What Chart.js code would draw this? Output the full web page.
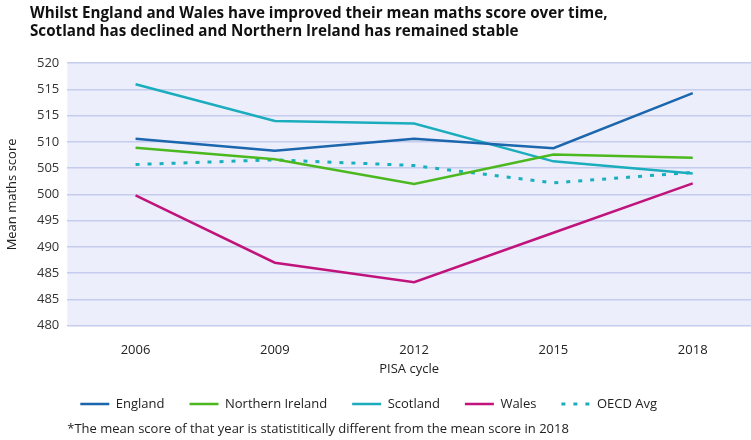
<!DOCTYPE html>
<html><head><meta charset="utf-8">
<script src="https://cdn.jsdelivr.net/npm/chart.js@4"></script>
<style>html,body{margin:0;padding:0;background:#fff}#wrap{width:751px;height:440px;position:relative}</style>
</head><body><div id="wrap"><canvas id="c"></canvas></div>
<script>
const years = [2006, 2009, 2012, 2015, 2018];
const england = [495.6, 493.3, 495.6, 493.8, 504.3];
const northernIreland = [493.9, 491.7, 487.0, 492.6, 492.0];
const scotland = [506.0, 499.0, 498.5, 491.3, 489.0];
const wales = [484.8, 472.0, 468.3, 477.7, 487.1];
const oecdAvg = [490.7, 491.6, 490.5, 487.2, 489.2];
const seriesNames = ['England', 'Northern Ireland', 'Scotland', 'Wales', 'OECD Avg'];
const yTickLabels = ['480','485','485','490','495','500','505','510','515','515','520'];
const titleLines = ['Whilst England and Wales have improved their mean maths score over time,',
                    'Scotland has declined and Northern Ireland has remained stable'];
const yTitle = 'Mean maths score';
const xTitle = 'PISA cycle';
const footnote = '*The mean score of that year is statistitically different from the mean score in 2018';

const FONT = 'Open Sans';
const pts = arr => arr.map((v, i) => ({x: years[i], y: v}));

const plotBg = {
  id: 'plotBg',
  beforeDraw(chart) {
    const {ctx, chartArea: a} = chart;
    ctx.save();
    ctx.fillStyle = '#eceffb';
    ctx.fillRect(a.left, a.top, a.right - a.left, a.bottom - a.top);
    ctx.restore();
  }
};
const legendShift = {
  id: 'legendShift',
  afterLayout(chart) {
    const l = chart.legend;
    if (l) { l.left -= 12; l.right -= 12; }
  }
};

const mk = (label, data, color, extra) => Object.assign({
  label, data: pts(data), borderColor: color, backgroundColor: color,
  borderWidth: 2.5, pointRadius: 0, tension: 0, fill: false
}, extra || {});

new Chart(document.getElementById('c'), {
  type: 'line',
  data: {
    datasets: [
      mk(seriesNames[0], england, '#1b66ad'),
      mk(seriesNames[1], northernIreland, '#4cb81f'),
      mk(seriesNames[2], scotland, '#1badbd'),
      mk(seriesNames[3], wales, '#c0137c'),
      mk(seriesNames[4], oecdAvg, '#1aafbf', {borderDash: [4, 8], borderWidth: 3})
    ]
  },
  options: {
    responsive: true, maintainAspectRatio: false, animation: false, devicePixelRatio: 1,
    layout: {padding: {left: 30, right: 0, top: 0, bottom: 0}},
    scales: {
      x: {
        type: 'linear', min: 2004.53, max: 2019.255,
        afterBuildTicks: axis => { axis.ticks = years.map(v => ({value: v})); },
        grid: {display: false, drawTicks: false}, border: {display: false},
        ticks: {callback: v => String(v), font: {family: FONT, size: 13}, color: '#222', padding: 17, maxRotation: 0},
        title: {display: true, text: xTitle, font: {family: FONT, size: 13}, color: '#222', padding: {top: -14, bottom: -4.5}}
      },
      y: {
        min: 460, max: 510,
        ticks: {stepSize: 5, callback: (v, i) => yTickLabels[i], font: {family: FONT, size: 13}, color: '#333', padding: 8},
        grid: {color: '#c5ccee', lineWidth: 1.5, drawTicks: false}, border: {display: false},
        title: {display: true, text: yTitle, font: {family: FONT, size: 13}, color: '#222', padding: {top: -25.8, bottom: 9.2}}
      }
    },
    plugins: {
      title: {display: true, text: titleLines, align: 'start', color: '#111',
        font: {family: FONT, size: 15.2, weight: 'bold', lineHeight: 1.19}, padding: {top: 5, bottom: 22}},
      subtitle: {display: true, text: footnote, position: 'bottom', align: 'start', fullSize: false, color: '#222',
        font: {family: FONT, size: 13}, padding: {top: 1, bottom: 3}},
      legend: {position: 'bottom', align: 'start', fullSize: false,
        labels: {usePointStyle: true, pointStyle: 'line', pointStyleWidth: 29, font: {family: FONT, size: 13}, color: '#222', padding: 25,
          generateLabels(chart) {
            const items = Chart.defaults.plugins.legend.labels.generateLabels(chart);
            items.forEach((it, i) => {
              const ds = chart.data.datasets[i];
              it.lineDash = ds.borderDash || [];
              it.lineWidth = ds.borderWidth;
              it.strokeStyle = ds.borderColor;
              it.lineCap = 'butt';
            });
            return items;
          }}},
      tooltip: {enabled: false}
    }
  },
  plugins: [plotBg, legendShift]
});
</script>
</body></html>
